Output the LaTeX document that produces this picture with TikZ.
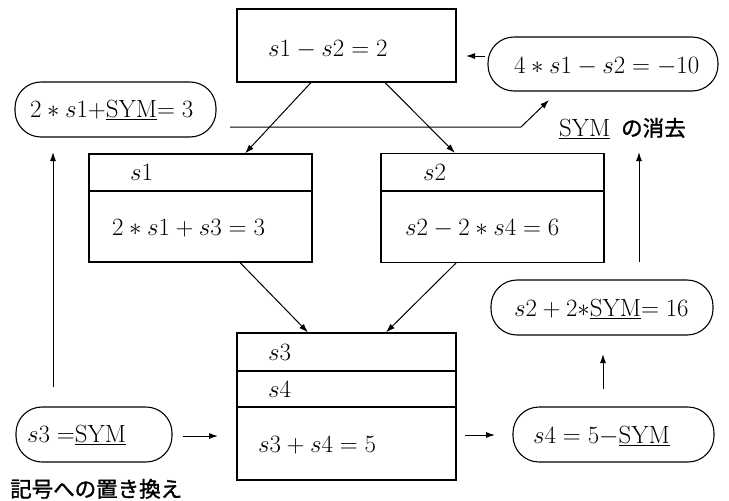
\documentclass[tikz,border=0pt]{standalone}
\usepackage{fontspec}
\newfontfamily\jp{Noto Sans CJK JP}[FakeBold=1.5]
\usetikzlibrary{arrows.meta}
\begin{document}
\begin{tikzpicture}[x=1pt,y=-1pt,
  box/.style={draw, line width=1.1pt, rectangle, inner sep=0pt},
  rbox/.style={draw, line width=1.1pt, rectangle, rounded corners=26pt, inner sep=0pt},
  txt/.style={anchor=base west, inner sep=0pt, font=\fontsize{24.88}{30}\selectfont},
  jtxt/.style={anchor=base west, inner sep=0pt, font=\fontsize{21.5}{26}\selectfont\jp},
  arr/.style={line width=1pt, -{Latex[length=9pt,width=6pt]}},
  divline/.style={line width=1.1pt}]
\useasboundingbox (0,0) rectangle (729,501);
% boxes
\node[box, minimum width=219pt, minimum height=73pt] (T) at (346.5,45.5) {};
\node[rbox, minimum width=230pt, minimum height=54pt] (R1) at (603,64) {};
\node[rbox, minimum width=201pt, minimum height=55pt] (L1) at (115.5,109.5) {};
\node[box, minimum width=223pt, minimum height=108pt] (B1) at (200.5,208) {};
\node[box, minimum width=223pt, minimum height=109pt] (B2) at (492.5,208) {};
\node[rbox, minimum width=222pt, minimum height=55pt] (R2) at (602,307.5) {};
\node[rbox, minimum width=156pt, minimum height=55pt] (L2) at (94,434.5) {};
\node[box, minimum width=219pt, minimum height=147pt] (B3) at (346.5,406.5) {};
\node[rbox, minimum width=201pt, minimum height=55pt] (R3) at (613.5,434.5) {};
% dividers
\coordinate (d1) at (0,191);
\coordinate (d2) at (0,371);
\coordinate (d3) at (0,407);
\draw[divline] (B1.west |- d1) -- (B1.east |- d1);
\draw[divline] (B2.west |- d1) -- (B2.east |- d1);
\draw[divline] (B3.west |- d2) -- (B3.east |- d2);
\draw[divline] (B3.west |- d3) -- (B3.east |- d3);
% texts
\node[txt] (tT) at (268,56) {$s1-s2=2$};
\node[txt] (tR1) at (514,73) {$4*s1-s2=-10$};
\node[txt] (tL1) at (30,117) {$2*s1{+}\underline{\mathrm{SYM}}{=}\;3$};
\node[txt] (tB1a) at (130,180) {$s1$};
\node[txt] (tB1b) at (112,235) {$2*s1+s3=3$};
\node[txt] (tB2a) at (423,180) {$s2$};
\node[txt] (tB2b) at (405,235) {$s2-2*s4=6$};
\node[txt] (tR2) at (514,316) {$s2+2{*}\underline{\mathrm{SYM}}{=}\;16$};
\node[txt] (tL2) at (27,442) {$s3\;{=}\underline{\mathrm{SYM}}$};
\node[txt] (tB3a) at (268,360) {$s3$};
\node[txt] (tB3b) at (268,397) {$s4$};
\node[txt] (tB3c) at (258,452) {$s3+s4=5$};
\node[txt] (tR3) at (533,443) {$s4=5{-}\underline{\mathrm{SYM}}$};
\node[txt] (sym) at (559,136) {\underline{SYM}};
\node[jtxt] (jp1) at (621,136) {の消去};
\node[jtxt] (jp2) at (10,497) {記号への置き換え};
% connectors
\coordinate (c1s) at (230,127);
\coordinate (c1m) at (521,127);
\coordinate (c1e) at (549,100);
\draw[arr] (c1s) -- (c1m) -- (c1e);
\coordinate (c2s) at (485,56);
\coordinate (c2e) at (466,56);
\draw[arr] (c2s) -- (c2e);
\draw[arr] ([xshift=-35.5pt]T.south) -- ([xshift=44.5pt]B1.north);
\draw[arr] ([xshift=38.5pt]T.south) -- ([xshift=-37.5pt]B2.north);
\draw[arr] ([xshift=39.5pt]B1.south) -- ([xshift=-38.5pt]B3.north);
\draw[arr] ([xshift=-36.5pt]B2.south) -- ([xshift=39.5pt]B3.north);
\coordinate (c3s) at (53,387);
\coordinate (c3e) at (53,152);
\draw[arr] (c3s) -- (c3e);
\coordinate (c4s) at (639,262);
\coordinate (c4e) at (639,152);
\draw[arr] (c4s) -- (c4e);
\coordinate (c5s) at (603,389);
\coordinate (c5e) at (603,354);
\draw[arr] (c5s) -- (c5e);
\coordinate (c6s) at (183,436);
\coordinate (c6e) at (218,436);
\draw[arr] (c6s) -- (c6e);
\coordinate (c7s) at (465,435);
\coordinate (c7e) at (495,435);
\draw[arr] (c7s) -- (c7e);
\end{tikzpicture}
\end{document}
